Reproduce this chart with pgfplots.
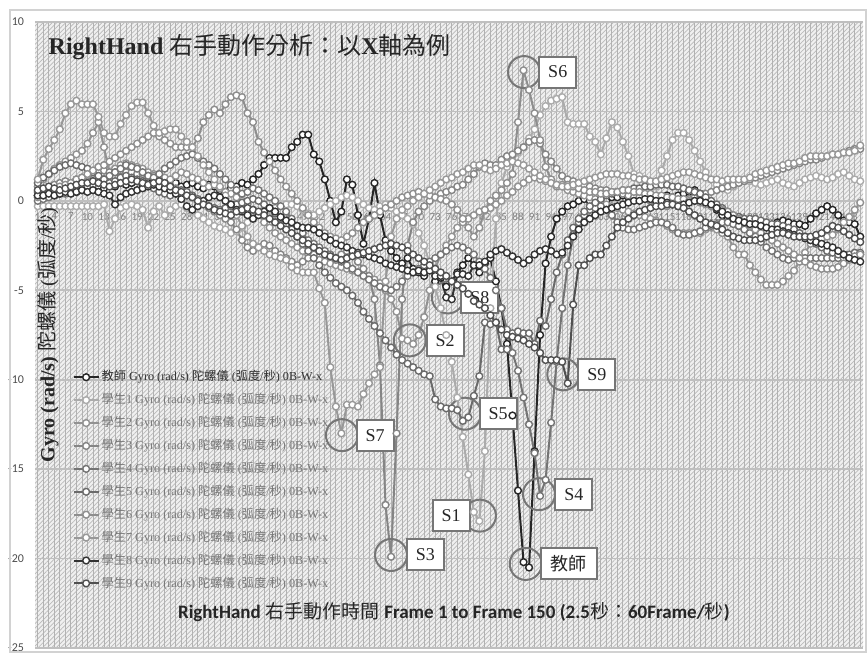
\documentclass[border=0pt]{standalone}
\usepackage{fontspec}
\setmainfont{Liberation Serif}
\newfontfamily\cjk{Noto Sans CJK TC}
\newfontfamily\calfont{Carlito}
\usepackage{pgfplots}
\pgfplotsset{compat=1.18}
\usepackage{pgfplotstable}
\usetikzlibrary{calc,patterns.meta}

\definecolor{cT}{HTML}{262626}
\definecolor{cA}{HTML}{ABABAB}
\definecolor{cB}{HTML}{929292}
\definecolor{cC}{HTML}{858585}
\definecolor{cD}{HTML}{747474}
\definecolor{cE}{HTML}{6A6A6A}
\definecolor{cF}{HTML}{8E8E8E}
\definecolor{cG}{HTML}{989898}
\definecolor{cH}{HTML}{333333}
\definecolor{cI}{HTML}{505050}
\definecolor{annc}{HTML}{767676}
\definecolor{lT}{HTML}{303030}
\definecolor{lS}{HTML}{777777}

\pgfplotsset{ser/.style={color=#1, line width=1pt, mark=*, mark size=1.7pt,
  mark options={fill=white, draw=#1, line width=0.7pt, solid}}}

% Teacher
\pgfplotstableread[row sep=\\,header=false]{
0.3\\0.4\\0.3\\0.5\\0.4\\0.5\\0.6\\0.5\\0.6\\0.7\\
0.6\\0.8\\0.7\\0.9\\0.8\\1.0\\0.9\\1.0\\1.1\\0.9\\
1.0\\1.2\\1.0\\0.9\\1.1\\1.0\\0.8\\0.9\\1.0\\0.8\\
0.7\\0.9\\0.8\\0.6\\0.5\\0.7\\0.8\\1.0\\0.9\\1.2\\
1.5\\2.0\\2.4\\2.4\\2.4\\2.4\\3.0\\3.3\\3.7\\3.7\\
2.6\\2.2\\1.2\\0.0\\-1.2\\-0.6\\1.2\\0.9\\-0.8\\-2.4\\
-1.0\\1.0\\-0.8\\-2.2\\-2.8\\-3.2\\-3.5\\-3.2\\-3.8\\-4.0\\
-4.2\\-3.8\\-4.5\\-4.3\\-4.8\\-4.5\\-4.0\\-3.6\\-3.2\\-3.6\\
-4.0\\-3.5\\-3.2\\-4.5\\-6.0\\-8.0\\-12.0\\-16.2\\-20.2\\-20.5\\
-14.0\\-7.5\\-3.5\\-2.0\\-1.0\\-0.6\\-0.3\\-0.2\\0.0\\0.1\\
0.0\\-0.2\\-0.3\\0.0\\0.2\\0.2\\0.3\\0.2\\0.2\\0.3\\
0.2\\0.3\\0.2\\0.2\\0.3\\0.2\\0.3\\0.4\\0.5\\0.6\\
0.4\\0.1\\-0.2\\-0.5\\-0.8\\-1.0\\-1.2\\-1.4\\-1.5\\-1.7\\
-1.9\\-2.0\\-1.7\\-1.4\\-1.2\\-1.1\\-1.2\\-1.3\\-1.3\\-1.4\\
-1.0\\-0.7\\-0.5\\-0.3\\-0.5\\-0.8\\-1.1\\-1.2\\-1.3\\-2.0\\
}\dT
% Student 1
\pgfplotstableread[row sep=\\,header=false]{
-0.3\\-0.3\\-0.3\\-0.3\\-0.3\\-0.3\\-0.3\\-0.3\\-0.3\\-0.3\\
-0.3\\-0.3\\-0.2\\-1.7\\-1.0\\-0.4\\-0.3\\-0.2\\-0.3\\-0.5\\
-1.5\\-0.6\\-0.3\\-0.8\\-0.5\\-0.3\\-0.2\\-0.4\\-0.6\\-0.8\\
-1.0\\-1.2\\-1.4\\-1.5\\-1.6\\-1.8\\-1.7\\-1.5\\-1.2\\-1.0\\
-0.8\\-0.6\\-0.5\\-0.4\\-0.3\\-0.2\\-0.2\\-0.3\\-0.5\\-0.7\\
-0.8\\-0.6\\-0.4\\-0.2\\0.0\\0.2\\0.3\\0.2\\0.0\\-0.2\\
-0.4\\-0.5\\-0.3\\-0.2\\-0.4\\-0.6\\-0.8\\-1.0\\-1.3\\-1.8\\
-2.5\\-3.5\\-4.8\\-6.0\\-7.5\\-9.0\\-11.0\\-13.2\\-15.3\\-17.4\\
-17.9\\-14.0\\-6.0\\-1.0\\1.0\\1.9\\2.2\\2.7\\3.0\\3.5\\
4.0\\4.8\\5.3\\5.6\\5.7\\5.8\\4.4\\4.3\\4.3\\4.3\\
3.6\\3.3\\2.6\\3.5\\4.4\\4.1\\3.3\\2.5\\1.5\\1.4\\
1.2\\1.0\\0.8\\1.7\\2.5\\3.4\\3.8\\3.8\\3.4\\2.8\\
2.2\\1.6\\1.2\\0.9\\0.7\\0.6\\0.8\\1.0\\1.1\\1.1\\
1.0\\0.9\\1.0\\1.1\\1.2\\1.0\\0.9\\0.8\\1.0\\1.2\\
1.3\\1.4\\1.3\\1.2\\1.3\\1.5\\1.6\\1.4\\1.2\\1.1\\
}\dA
% Student 2
\pgfplotstableread[row sep=\\,header=false]{
0.8\\1.2\\1.5\\1.8\\2.0\\2.2\\2.4\\2.6\\2.8\\3.2\\
3.8\\4.4\\3.0\\1.5\\1.8\\2.0\\2.1\\2.0\\1.9\\1.8\\
1.6\\1.5\\1.4\\1.3\\1.2\\1.4\\1.6\\1.5\\1.3\\1.2\\
1.0\\0.8\\0.9\\0.7\\0.5\\0.4\\0.2\\0.0\\-0.2\\-0.5\\
-0.8\\-1.2\\-1.5\\-1.8\\-2.0\\-2.2\\-2.4\\-2.6\\-2.8\\-3.0\\
-3.2\\-3.3\\-3.4\\-3.5\\-3.6\\-3.7\\-3.8\\-3.9\\-4.0\\-4.0\\
-4.2\\-4.4\\-4.6\\-5.0\\-5.5\\-6.2\\-7.7\\-7.8\\-8.0\\-7.5\\
-6.5\\-5.0\\-3.8\\-3.0\\-2.5\\-2.0\\-1.5\\-1.2\\-1.0\\-0.8\\
-0.6\\-0.5\\-0.4\\-0.2\\0.0\\0.3\\0.5\\0.8\\1.0\\1.2\\
1.3\\1.2\\1.1\\1.0\\0.9\\0.8\\0.6\\0.5\\0.4\\0.3\\
0.2\\0.1\\0.0\\-0.2\\-0.3\\-0.4\\-0.5\\-0.6\\-0.7\\-0.8\\
-0.9\\-1.0\\-1.1\\-1.2\\-1.4\\-1.6\\-1.8\\-1.8\\-1.8\\-1.8\\
-1.8\\-1.6\\-1.5\\-1.6\\-1.8\\-2.0\\-2.6\\-3.0\\-3.0\\-3.6\\
-4.0\\-4.4\\-4.7\\-4.7\\-4.7\\-4.5\\-4.2\\-3.9\\-3.4\\-2.9\\
-2.4\\-2.2\\-2.1\\-2.0\\-1.9\\-1.6\\-1.2\\-0.9\\-0.5\\-0.1\\
}\dB
% Student 3
\pgfplotstableread[row sep=\\,header=false]{
0.5\\0.6\\0.7\\0.9\\1.0\\1.1\\1.0\\1.2\\1.3\\1.4\\
1.5\\1.6\\1.7\\1.6\\1.6\\1.7\\1.6\\1.6\\1.5\\1.5\\
1.4\\1.4\\1.2\\1.0\\0.8\\0.7\\0.5\\0.3\\0.2\\0.0\\
-0.2\\-0.4\\-0.6\\-0.8\\-1.0\\-1.2\\-1.6\\-2.2\\-2.6\\-2.8\\
-2.6\\-2.4\\-2.5\\-2.8\\-3.0\\-3.2\\-3.4\\-3.6\\-3.4\\-3.2\\
-3.0\\-2.8\\-2.9\\-3.1\\-3.3\\-3.0\\-2.8\\-3.0\\-3.4\\-3.8\\
-4.2\\-5.5\\-9.2\\-17.0\\-19.9\\-13.0\\-5.5\\-2.5\\-1.2\\-0.6\\
-0.3\\0.0\\0.2\\0.4\\0.5\\0.6\\0.8\\0.9\\1.2\\1.5\\
1.9\\2.1\\2.0\\2.0\\2.3\\2.5\\2.6\\2.8\\3.0\\3.3\\
3.4\\3.2\\2.6\\2.2\\1.8\\1.4\\1.2\\1.1\\1.0\\0.9\\
0.8\\0.7\\0.6\\0.6\\0.5\\0.5\\0.4\\0.3\\0.2\\0.2\\
0.1\\0.0\\-0.1\\-0.2\\-0.3\\-0.2\\-0.1\\0.0\\0.1\\0.2\\
0.3\\0.4\\0.5\\0.6\\0.7\\0.8\\0.9\\1.0\\1.1\\1.2\\
1.3\\1.4\\1.5\\1.6\\1.7\\1.8\\1.9\\2.0\\2.1\\2.2\\
2.3\\2.3\\2.4\\2.5\\2.6\\2.6\\2.7\\2.8\\2.9\\2.9\\
}\dC
% Student 4
\pgfplotstableread[row sep=\\,header=false]{
0.0\\0.1\\0.2\\0.3\\0.4\\0.4\\0.5\\0.6\\0.7\\0.8\\
0.9\\1.0\\1.2\\1.4\\1.6\\1.8\\2.0\\1.9\\1.8\\1.6\\
1.4\\1.3\\1.5\\1.8\\2.0\\2.2\\2.4\\2.5\\2.6\\2.4\\
2.2\\2.0\\1.8\\1.5\\1.2\\0.9\\0.6\\0.4\\0.5\\0.7\\
0.6\\0.4\\0.2\\0.0\\-0.3\\-0.6\\-1.0\\-1.4\\-1.8\\-2.2\\
-2.4\\-2.6\\-2.8\\-3.0\\-3.2\\-3.4\\-3.6\\-3.8\\-4.0\\-4.2\\
-4.4\\-4.6\\-4.8\\-4.9\\-5.0\\-4.8\\-4.5\\-4.2\\-4.0\\-3.8\\
-3.6\\-3.4\\-3.2\\-3.0\\-2.8\\-2.6\\-2.5\\-2.6\\-2.8\\-3.0\\
-3.4\\-3.8\\-4.3\\-5.0\\-6.0\\-7.2\\-8.5\\-9.5\\-11.0\\-12.5\\
-14.1\\-16.5\\-15.6\\-12.4\\-9.0\\-6.0\\-3.6\\-2.0\\-1.2\\-0.8\\
-0.5\\-0.4\\-0.3\\-0.5\\-0.8\\-1.2\\-1.5\\-1.6\\-1.6\\-1.5\\
-1.4\\-1.3\\-1.2\\-1.2\\-1.3\\-1.5\\-1.8\\-1.9\\-1.9\\-1.8\\
-1.7\\-1.5\\-1.4\\-1.3\\-1.2\\-1.2\\-1.3\\-1.4\\-1.6\\-1.8\\
-2.0\\-2.3\\-2.6\\-2.8\\-3.0\\-3.2\\-3.3\\-3.2\\-3.2\\-3.2\\
-3.2\\-3.2\\-3.2\\-3.2\\-3.2\\-3.2\\-3.2\\-3.2\\-3.1\\-3.0\\
}\dD
% Student 5
\pgfplotstableread[row sep=\\,header=false]{
1.0\\1.3\\1.5\\1.7\\1.9\\2.0\\2.1\\2.0\\1.9\\1.8\\
1.6\\1.4\\1.2\\1.0\\1.1\\1.3\\1.4\\1.3\\1.2\\1.1\\
0.9\\0.7\\0.5\\0.4\\0.3\\0.4\\0.6\\0.5\\0.3\\0.1\\
-0.1\\-0.3\\-0.4\\-0.5\\-0.4\\-0.3\\-0.2\\-0.1\\0.0\\0.1\\
0.0\\-0.2\\-0.4\\-0.7\\-1.0\\-1.3\\-1.6\\-2.0\\-2.4\\-2.8\\
-3.2\\-3.6\\-4.0\\-4.3\\-4.6\\-4.8\\-5.0\\-5.3\\-5.7\\-6.2\\
-6.6\\-7.0\\-7.4\\-7.8\\-8.2\\-8.6\\-8.9\\-9.1\\-9.3\\-9.5\\
-9.7\\-9.8\\-11.1\\-11.5\\-11.6\\-11.6\\-11.7\\-12.3\\-12.1\\-10.9\\
-9.8\\-6.8\\-6.9\\-6.8\\-8.3\\-8.3\\-7.4\\-7.3\\-7.4\\-7.4\\
-8.0\\-6.7\\-7.0\\-5.5\\-4.0\\-3.0\\-2.2\\-1.5\\-1.0\\-0.6\\
-0.3\\-0.1\\0.1\\0.3\\0.4\\0.5\\0.6\\0.6\\0.7\\0.7\\
0.8\\0.8\\0.9\\0.9\\0.9\\0.8\\0.8\\0.7\\0.6\\0.5\\
0.4\\0.2\\0.0\\-0.2\\-0.4\\-0.6\\-0.8\\-0.9\\-1.0\\-1.0\\
-1.0\\-1.1\\-1.2\\-1.3\\-1.3\\-1.4\\-1.5\\-1.6\\-1.8\\-2.0\\
-2.2\\-2.4\\-2.6\\-2.8\\-2.9\\-3.0\\-3.0\\-3.0\\-2.9\\-2.9\\
}\dE
% Student 6
\pgfplotstableread[row sep=\\,header=false]{
0.2\\0.3\\0.5\\0.6\\0.8\\0.9\\1.0\\1.2\\1.3\\1.5\\
1.7\\1.9\\2.0\\2.2\\2.4\\2.6\\2.8\\3.0\\3.2\\3.4\\
3.6\\3.8\\3.6\\3.4\\3.2\\3.0\\3.0\\3.0\\3.0\\3.5\\
4.4\\4.8\\5.1\\4.9\\5.4\\5.8\\5.9\\5.8\\4.9\\4.4\\
3.3\\2.7\\2.2\\1.7\\1.2\\0.8\\0.4\\0.0\\-0.4\\-0.8\\
-1.2\\-1.5\\-1.8\\-2.0\\-2.1\\-2.2\\-2.0\\-1.8\\-1.5\\-1.2\\
-1.0\\-0.8\\-0.6\\-0.4\\-0.2\\0.0\\0.2\\0.3\\0.4\\0.5\\
0.4\\0.3\\0.2\\0.1\\0.0\\-0.2\\-0.5\\-1.0\\-1.5\\-2.0\\
-1.5\\-0.5\\0.0\\0.3\\0.6\\1.0\\1.5\\4.4\\7.3\\6.2\\
4.9\\3.4\\1.9\\1.2\\0.8\\0.9\\0.9\\0.8\\0.7\\0.6\\
0.5\\0.5\\0.4\\0.4\\0.5\\0.5\\0.6\\0.6\\0.5\\0.5\\
0.4\\0.4\\0.3\\0.3\\0.2\\0.2\\0.1\\0.1\\0.0\\0.0\\
-0.1\\-0.2\\-0.3\\-0.4\\-0.5\\-0.6\\-0.8\\-1.0\\-1.2\\-1.4\\
-1.6\\-1.8\\-2.0\\-2.2\\-2.4\\-2.6\\-2.8\\-3.0\\-3.2\\-3.4\\
-3.6\\-3.7\\-3.8\\-3.8\\-3.8\\-3.7\\-3.5\\-3.3\\-3.1\\-3.0\\
}\dF
% Student 7
\pgfplotstableread[row sep=\\,header=false]{
1.2\\2.3\\2.9\\3.4\\4.0\\4.9\\5.4\\5.6\\5.4\\5.4\\
5.4\\4.7\\3.8\\3.6\\3.6\\4.3\\4.8\\5.3\\5.5\\5.5\\
4.9\\4.2\\3.8\\3.9\\4.0\\4.0\\3.6\\3.3\\3.0\\2.5\\
2.0\\1.6\\1.2\\0.8\\0.3\\-0.2\\-0.8\\-1.4\\-2.0\\-2.4\\
-2.6\\-2.8\\-3.0\\-3.1\\-3.2\\-3.3\\-3.7\\-3.9\\-4.0\\-4.0\\
-4.0\\-4.9\\-5.7\\-9.3\\-11.5\\-13.0\\-11.4\\-11.4\\-11.5\\-10.8\\
-10.2\\-9.7\\-9.3\\-4.5\\-2.0\\-1.0\\-0.5\\-0.3\\0.0\\0.2\\
0.4\\0.6\\0.8\\1.0\\1.2\\1.3\\1.5\\1.6\\1.8\\2.0\\
2.0\\1.8\\1.7\\1.8\\2.0\\2.1\\2.2\\2.1\\2.0\\1.8\\
1.6\\1.4\\1.2\\1.0\\0.9\\0.8\\0.8\\0.9\\1.0\\1.1\\
1.2\\1.3\\1.4\\1.5\\1.5\\1.5\\1.4\\1.4\\1.3\\1.2\\
1.2\\1.1\\1.1\\1.2\\1.3\\1.4\\1.5\\1.6\\1.6\\1.5\\
1.4\\1.3\\1.2\\1.2\\1.1\\1.2\\1.2\\1.2\\1.2\\1.3\\
1.5\\1.6\\1.7\\1.8\\1.9\\2.0\\2.1\\2.1\\2.2\\2.4\\
2.5\\2.5\\2.5\\2.5\\2.6\\2.6\\2.7\\2.7\\2.8\\3.1\\
}\dG
% Student 8
\pgfplotstableread[row sep=\\,header=false]{
0.3\\0.3\\0.4\\0.3\\0.4\\0.5\\0.4\\0.5\\0.6\\0.5\\
0.6\\0.5\\0.4\\0.3\\-0.2\\0.2\\0.4\\0.5\\0.6\\0.7\\
0.8\\0.9\\0.8\\0.7\\0.6\\0.4\\0.1\\-0.3\\-0.5\\-0.3\\
0.0\\0.2\\0.3\\0.2\\0.0\\-0.2\\-0.5\\-0.6\\-0.8\\-1.0\\
-0.8\\-0.6\\-0.4\\-0.6\\-0.9\\-1.1\\-1.2\\-1.4\\-1.5\\-1.5\\
-1.6\\-1.8\\-2.0\\-2.2\\-2.4\\-2.5\\-2.6\\-2.8\\-2.9\\-3.0\\
-3.1\\-3.2\\-3.3\\-3.5\\-3.6\\-3.7\\-3.8\\-3.9\\-4.0\\-3.9\\
-4.0\\-3.9\\-4.2\\-4.2\\-5.4\\-5.5\\-4.1\\-4.1\\-4.2\\-3.6\\
-3.6\\-3.4\\-3.0\\-2.8\\-2.7\\-2.9\\-3.1\\-3.3\\-3.5\\-3.3\\
-3.0\\-2.8\\-2.7\\-2.8\\-3.0\\-2.9\\-2.5\\-2.0\\-1.6\\-1.2\\
-1.0\\-0.8\\-0.6\\-0.5\\-0.4\\-0.3\\-0.2\\-0.1\\0.0\\0.0\\
0.1\\0.1\\0.0\\0.0\\-0.1\\-0.2\\-0.3\\-0.2\\-0.1\\0.0\\
0.0\\-0.1\\-0.2\\-0.4\\-0.6\\-0.8\\-1.0\\-1.1\\-1.2\\-1.3\\
-1.3\\-1.4\\-1.5\\-1.6\\-1.6\\-1.7\\-1.8\\-1.9\\-2.0\\-2.1\\
-2.2\\-2.3\\-2.4\\-2.5\\-2.6\\-2.8\\-3.0\\-3.2\\-3.3\\-3.4\\
}\dH
% Student 9
\pgfplotstableread[row sep=\\,header=false]{
0.6\\0.7\\0.8\\0.7\\0.6\\0.7\\0.8\\0.9\\1.0\\1.0\\
1.1\\1.0\\0.9\\0.8\\0.9\\1.0\\1.1\\1.2\\1.1\\1.0\\
0.9\\1.0\\1.1\\1.0\\0.8\\0.6\\0.5\\0.3\\0.2\\0.0\\
-0.2\\-0.3\\-0.5\\-0.6\\-0.7\\-0.8\\-0.6\\-0.5\\-0.4\\-0.5\\
-0.6\\-0.8\\-1.0\\-1.2\\-1.4\\-1.6\\-1.8\\-2.0\\-2.2\\-2.4\\
-2.6\\-2.8\\-3.0\\-3.1\\-3.2\\-3.3\\-3.2\\-3.1\\-3.0\\-2.9\\
-2.8\\-2.7\\-2.6\\-2.5\\-2.4\\-2.5\\-2.6\\-2.8\\-3.0\\-3.2\\
-3.4\\-3.6\\-3.8\\-4.0\\-4.2\\-4.5\\-4.7\\-4.9\\-5.2\\-5.6\\
-5.8\\-6.0\\-6.4\\-6.8\\-7.2\\-7.5\\-7.6\\-7.7\\-7.8\\-8.0\\
-8.2\\-8.5\\-8.9\\-8.9\\-8.9\\-9.0\\-10.2\\-5.8\\-3.6\\-3.6\\
-3.2\\-3.0\\-3.0\\-2.5\\-2.0\\-1.5\\-1.2\\-1.0\\-0.8\\-0.6\\
-0.5\\-0.4\\-0.3\\-0.3\\-0.2\\-0.2\\-0.3\\-0.4\\-0.6\\-0.8\\
-1.0\\-1.2\\-1.3\\-1.4\\-1.6\\-1.8\\-2.0\\-2.1\\-2.2\\-2.2\\
-2.2\\-2.1\\-2.0\\-1.9\\-1.8\\-1.8\\-1.9\\-2.0\\-2.0\\-2.0\\
-2.0\\-1.9\\-1.8\\-1.6\\-1.4\\-1.5\\-1.7\\-1.9\\-2.1\\-2.3\\
}\dI

\newcommand{\C}[1]{{\cjk #1}}
\newcommand{\ann}[5]{%
  \draw[annc, line width=1pt] (axis cs:#1,#2) circle[radius=8pt];
  \node[draw=annc, line width=1pt, fill=white, minimum width=#5, minimum height=15.5pt,
        inner sep=1pt, font=\fontsize{9}{10}\selectfont, text=black!85] at (axis cs:#3,#2) {#4};}

\begin{document}
\begin{tikzpicture}
\begin{axis}[
  name=ax, scale only axis, width=414pt, height=313pt,
  xmin=0.5, xmax=150.5, ymin=-25, ymax=10,
  axis x line=middle, axis y line=left,
  axis line style={draw=none},
  hide obscured y ticks=false, hide obscured x ticks=false,
  xtick={1,4,...,148}, ytick={-25,-20,...,10},
  minor xtick={1,...,150},
  major tick length=0pt, minor tick length=0pt,
  xminorgrids, ymajorgrids,
  minor grid style={gray!60, line width=0.4pt},
  major grid style={gray!50, line width=0.8pt},
  axis background/.style={preaction={fill=gray!12},
     pattern={Lines[angle=45, distance=1.6pt, line width=0.35pt]}, pattern color=gray!55},
  /pgf/number format/assume math mode=true,
  xticklabel style={font=\calfont\fontsize{5.5}{6}\selectfont, text=gray, yshift=-2.5pt},
  yticklabel style={font=\calfont\fontsize{6}{7}\selectfont, text=black!70, xshift=-2pt},
  clip=false,
  xlabel={{\calfont\bfseries RightHand} \C{右手動作時間} {\calfont\bfseries Frame 1 to Frame 150 (2.5}\C{秒：}{\calfont\bfseries 60Frame/}\C{秒}{\calfont\bfseries )}},
  xlabel style={at={(axis description cs:0.506,0.0575)}, anchor=center, font=\fontsize{9.5}{11}\selectfont, text=black!85},
  ylabel={{\bfseries Gyro (rad/s)} \C{陀螺儀} (\C{弧度}/\C{秒})},
  ylabel style={at={(axis description cs:0.0157,0.5)}, anchor=center, font=\fontsize{10}{12}\selectfont, text=black!85},
  legend style={at={(axis description cs:0.045,0.447)}, anchor=north west, draw=none, fill=none,
    font=\fontsize{6.1}{7}\selectfont, row sep=2.8pt, inner sep=0pt, nodes={inner sep=1pt}},
  legend cell align=left,
  legend image code/.code={\draw[#1, mark repeat=2, mark phase=2] plot coordinates {(0pt,0pt) (6.25pt,0pt) (12.5pt,0pt)};},
]
\addplot[ser=cT] table[x expr=\coordindex+1, y index=0]{\dT};
\addlegendentry{\textcolor{lT}{\C{教師} Gyro (rad/s) \C{陀螺儀} (\C{弧度}/\C{秒}) 0B-W-x}}
\addplot[ser=cA] table[x expr=\coordindex+1, y index=0]{\dA};
\addlegendentry{\textcolor{lS}{\C{學生}1 Gyro (rad/s) \C{陀螺儀} (\C{弧度}/\C{秒}) 0B-W-x}}
\addplot[ser=cB] table[x expr=\coordindex+1, y index=0]{\dB};
\addlegendentry{\textcolor{lS}{\C{學生}2 Gyro (rad/s) \C{陀螺儀} (\C{弧度}/\C{秒}) 0B-W-x}}
\addplot[ser=cC] table[x expr=\coordindex+1, y index=0]{\dC};
\addlegendentry{\textcolor{lS}{\C{學生}3 Gyro (rad/s) \C{陀螺儀} (\C{弧度}/\C{秒}) 0B-W-x}}
\addplot[ser=cD] table[x expr=\coordindex+1, y index=0]{\dD};
\addlegendentry{\textcolor{lS}{\C{學生}4 Gyro (rad/s) \C{陀螺儀} (\C{弧度}/\C{秒}) 0B-W-x}}
\addplot[ser=cE] table[x expr=\coordindex+1, y index=0]{\dE};
\addlegendentry{\textcolor{lS}{\C{學生}5 Gyro (rad/s) \C{陀螺儀} (\C{弧度}/\C{秒}) 0B-W-x}}
\addplot[ser=cF] table[x expr=\coordindex+1, y index=0]{\dF};
\addlegendentry{\textcolor{lS}{\C{學生}6 Gyro (rad/s) \C{陀螺儀} (\C{弧度}/\C{秒}) 0B-W-x}}
\addplot[ser=cG] table[x expr=\coordindex+1, y index=0]{\dG};
\addlegendentry{\textcolor{lS}{\C{學生}7 Gyro (rad/s) \C{陀螺儀} (\C{弧度}/\C{秒}) 0B-W-x}}
\addplot[ser=cH] table[x expr=\coordindex+1, y index=0]{\dH};
\addlegendentry{\textcolor{lS}{\C{學生}8 Gyro (rad/s) \C{陀螺儀} (\C{弧度}/\C{秒}) 0B-W-x}}
\addplot[ser=cI] table[x expr=\coordindex+1, y index=0]{\dI};
\addlegendentry{\textcolor{lS}{\C{學生}9 Gyro (rad/s) \C{陀螺儀} (\C{弧度}/\C{秒}) 0B-W-x}}

\node[anchor=west, font=\fontsize{12}{14}\selectfont, text=black!85] at (axis description cs:0.008,0.96)
  {{\bfseries RightHand} \C{右手動作分析：以}{\bfseries X}\C{軸為例}};

\ann{89.1}{7.2}{95.2}{S6}{18.5pt}
\ann{75.3}{-5.4}{81.1}{S8}{18.5pt}
\ann{68.4}{-7.8}{74.8}{S2}{18.5pt}
\ann{96.2}{-9.7}{102.3}{S9}{18.5pt}
\ann{78.4}{-11.9}{84.4}{S5}{18.5pt}
\ann{56.1}{-13.1}{62.1}{S7}{18.5pt}
\ann{65.0}{-19.8}{71.2}{S3}{18.5pt}
\ann{81.1}{-17.6}{75.9}{S1}{18.5pt}
\ann{91.8}{-16.4}{98.1}{S4}{18.5pt}
\ann{89.4}{-20.3}{97.2}{\C{教師}}{28pt}
\end{axis}
\draw[gray!35, line width=0.6pt] ($(ax.south west)+(-12.5pt,-2pt)$) rectangle ++(428pt,321pt);
\path ($(ax.south west)+(-17.5pt,-3.5pt)$) rectangle ++(433.5pt,327.5pt);
\end{tikzpicture}
\end{document}
